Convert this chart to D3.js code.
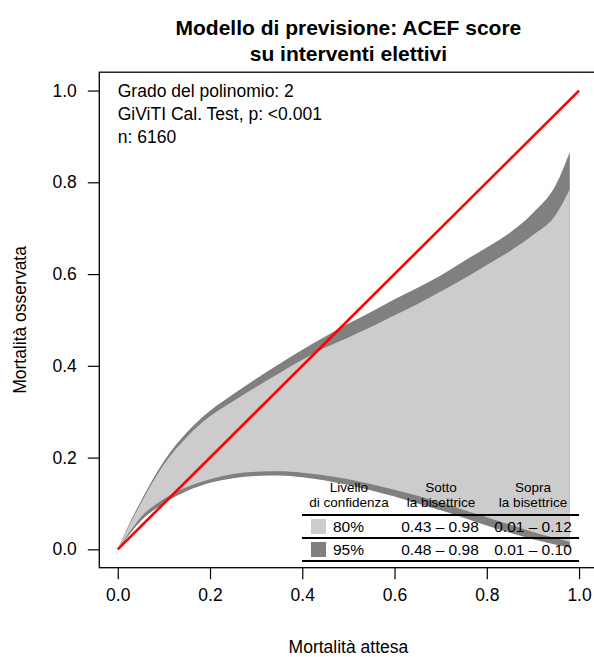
<!DOCTYPE html>
<html>
<head>
<meta charset="utf-8">
<script src="https://cdn.jsdelivr.net/npm/d3@7"></script>
<style>
  body { margin: 0; background: #fff; }
  svg { display: block; font-family: "Liberation Sans", Arial, Helvetica, sans-serif; }
</style>
</head>
<body>
<svg id="chart" width="594" height="657"></svg>
<script>
// ---- data ----
const expected = [0, 0.02, 0.05, 0.1, 0.15, 0.2, 0.25, 0.3, 0.35, 0.4, 0.45, 0.5, 0.55, 0.6, 0.65, 0.7, 0.75, 0.8, 0.85, 0.9, 0.95, 0.98];
const upper95 = [0, 0.045, 0.105, 0.192, 0.255, 0.302, 0.338, 0.372, 0.404, 0.435, 0.464, 0.492, 0.518, 0.545, 0.570, 0.597, 0.628, 0.658, 0.690, 0.733, 0.795, 0.866];
const upper80 = [0, 0.042, 0.100, 0.185, 0.245, 0.290, 0.323, 0.354, 0.384, 0.413, 0.440, 0.462, 0.485, 0.510, 0.535, 0.562, 0.590, 0.620, 0.650, 0.685, 0.730, 0.785];
const lower80 = [0, 0.030, 0.070, 0.110, 0.136, 0.153, 0.164, 0.169, 0.170, 0.167, 0.161, 0.153, 0.142, 0.130, 0.117, 0.102, 0.086, 0.070, 0.054, 0.038, 0.024, 0.016];
const lower95 = [0, 0.026, 0.062, 0.100, 0.127, 0.145, 0.155, 0.160, 0.161, 0.157, 0.150, 0.140, 0.128, 0.115, 0.100, 0.085, 0.069, 0.052, 0.036, 0.022, 0.010, 0.003];
const bisector = [0, 1];
const xTicks = [0, 0.2, 0.4, 0.6, 0.8, 1.0];
const yTicks = [0, 0.2, 0.4, 0.6, 0.8, 1.0];
const titleLines = ["Modello di previsione: ACEF score", "su interventi elettivi"];
const infoLines = ["Grado del polinomio: 2", "GiViTI Cal. Test, p: <0.001", "n: 6160"];
const legendHeaders = [["Livello", "di confidenza"], ["Sotto", "la bisettrice"], ["Sopra", "la bisettrice"]];
const legendLevels = ["80%", "95%"];
const legendBelow = ["0.43 \u2013 0.98", "0.48 \u2013 0.98"];
const legendAbove = ["0.01 \u2013 0.12", "0.01 \u2013 0.10"];
const legendColors = ["#cccccc", "#808080"];

// ---- layout ----
const svg = d3.select("#chart");
const x = d3.scaleLinear().domain([-0.04, 1.04]).range([99.3, 597.5]);
const y = d3.scaleLinear().domain([-0.04, 1.04]).range([567.7, 72.2]);

// bands
const band = (lo, hi) => d3.area()
  .x((d, i) => x(expected[i]))
  .y0((d, i) => y(lo[i]))
  .y1((d, i) => y(hi[i]))
  .curve(d3.curveMonotoneX);

svg.append("path").attr("d", band(lower95, upper95)(expected)).attr("fill", "#808080");
svg.append("path").attr("d", band(lower80, upper80)(expected)).attr("fill", "#cccccc");

// bisector
svg.append("line")
  .attr("x1", x(bisector[0])).attr("y1", y(bisector[0]))
  .attr("x2", x(bisector[1])).attr("y2", y(bisector[1]))
  .attr("stroke", "#ff0000").attr("stroke-width", 2.6);

// box
svg.append("rect")
  .attr("x", x(-0.04)).attr("y", y(1.04))
  .attr("width", x(1.04) - x(-0.04)).attr("height", y(-0.04) - y(1.04))
  .attr("fill", "none").attr("stroke", "#000").attr("stroke-width", 1.3);

// x axis
const xAxis = d3.axisBottom(x).tickValues(xTicks).tickFormat(d3.format(".1f")).tickSize(11.5).tickPadding(9);
const gx = svg.append("g").attr("transform", `translate(0,${y(-0.04)})`).call(xAxis);
gx.select(".domain").remove();
gx.selectAll("line").attr("stroke", "#000").attr("stroke-width", 1.2);
gx.selectAll("text").attr("font-size", 17.5).attr("fill", "#000").attr("font-family", "Liberation Sans, Arial, sans-serif");

// y axis
const yAxis = d3.axisLeft(y).tickValues(yTicks).tickFormat(d3.format(".1f")).tickSize(11.5).tickPadding(11);
const gy = svg.append("g").attr("transform", `translate(${x(-0.04)},0)`).call(yAxis);
gy.select(".domain").remove();
gy.selectAll("line").attr("stroke", "#000").attr("stroke-width", 1.2);
gy.selectAll("text").attr("font-size", 17.5).attr("fill", "#000").attr("font-family", "Liberation Sans, Arial, sans-serif");

// axis titles
svg.append("text").attr("x", (x(-0.04) + x(1.04)) / 2).attr("y", 653)
  .attr("text-anchor", "middle").attr("font-size", 17.5).text("Mortalit\u00e0 attesa");
svg.append("text").attr("transform", `translate(26,${(y(-0.04) + y(1.04)) / 2}) rotate(-90)`)
  .attr("text-anchor", "middle").attr("font-size", 17.5).text("Mortalit\u00e0 osservata");

// title
titleLines.forEach((t, i) => {
  svg.append("text").attr("x", (x(-0.04) + x(1.04)) / 2).attr("y", 35 + i * 26)
    .attr("text-anchor", "middle").attr("font-size", 21).attr("font-weight", "bold").text(t);
});

// info text
infoLines.forEach((t, i) => {
  svg.append("text").attr("x", x(0)).attr("y", 97 + i * 23)
    .attr("font-size", 17.5).text(t);
});

// legend table
const legLeft = 302, legRight = x(1);
const colCenters = [349, 441, 533];
legendHeaders.forEach((h, c) => {
  h.forEach((t, k) => {
    svg.append("text").attr("x", colCenters[c]).attr("y", 491.5 + k * 15)
      .attr("text-anchor", "middle").attr("font-size", 13.5).text(t);
  });
});
[515, 538, 561].forEach(ly => {
  svg.append("line").attr("x1", legLeft).attr("x2", legRight).attr("y1", ly).attr("y2", ly)
    .attr("stroke", "#000").attr("stroke-width", 1.8);
});
legendLevels.forEach((lv, r) => {
  const cy = 526.5 + r * 23;
  svg.append("rect").attr("x", 311).attr("y", cy - 7.5).attr("width", 15).attr("height", 15)
    .attr("fill", legendColors[r]);
  svg.append("text").attr("x", 333).attr("y", cy + 5.5).attr("font-size", 15.5).text(lv);
  svg.append("text").attr("x", colCenters[1] - 1).attr("y", cy + 5.5).attr("text-anchor", "middle").attr("font-size", 15.5).text(legendBelow[r]);
  svg.append("text").attr("x", colCenters[2]).attr("y", cy + 5.5).attr("text-anchor", "middle").attr("font-size", 15.5).text(legendAbove[r]);
});
</script>
</body>
</html>
